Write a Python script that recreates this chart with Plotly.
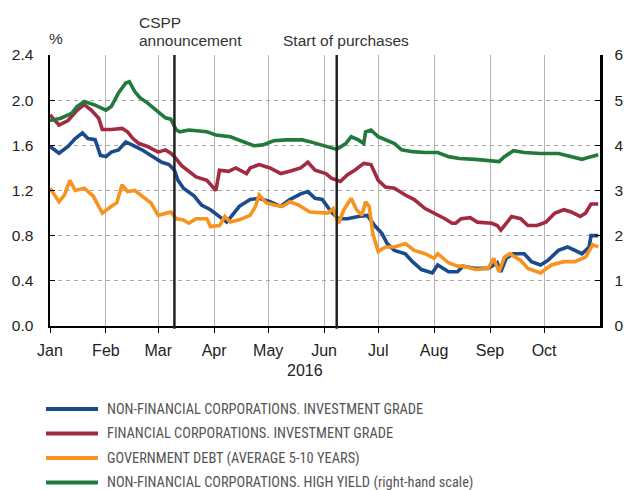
import plotly.graph_objects as go

# ---------------- data ----------------
series_names = [
    "NON-FINANCIAL CORPORATIONS. INVESTMENT GRADE",
    "FINANCIAL CORPORATIONS. INVESTMENT GRADE",
    "GOVERNMENT DEBT (AVERAGE 5-10 YEARS)",
    "NON-FINANCIAL CORPORATIONS. HIGH YIELD (right-hand scale)",
]

nfc_ig_dates = ["2016-01-01","2016-01-06","2016-01-11","2016-01-15","2016-01-19","2016-01-22","2016-01-26",
    "2016-01-29","2016-02-01","2016-02-04","2016-02-08","2016-02-12","2016-02-16","2016-02-21","2016-02-26",
    "2016-03-03","2016-03-07","2016-03-10","2016-03-12","2016-03-15","2016-03-21","2016-03-25","2016-03-30",
    "2016-04-04","2016-04-08","2016-04-12","2016-04-15","2016-04-21","2016-04-26","2016-05-02","2016-05-08",
    "2016-05-13","2016-05-19","2016-05-23","2016-05-27","2016-05-31","2016-06-05","2016-06-09","2016-06-14",
    "2016-06-20","2016-06-25","2016-06-29","2016-07-03","2016-07-06","2016-07-10","2016-07-16","2016-07-20",
    "2016-07-25","2016-07-31","2016-08-03","2016-08-09","2016-08-14","2016-08-17","2016-08-24","2016-08-31",
    "2016-09-05","2016-09-07","2016-09-10","2016-09-14","2016-09-20","2016-09-24","2016-09-29","2016-10-03",
    "2016-10-09","2016-10-14","2016-10-22","2016-10-26","2016-10-27","2016-10-31"]
nfc_ig_values = [1.59,1.53,1.59,1.66,1.71,1.66,1.65,
    1.51,1.50,1.54,1.56,1.63,1.60,1.56,1.51,
    1.45,1.43,1.38,1.29,1.22,1.15,1.07,1.03,
    0.97,0.92,1.00,1.06,1.12,1.13,1.10,1.06,
    1.12,1.17,1.19,1.13,1.12,1.01,0.95,0.95,
    0.97,0.98,0.89,0.82,0.73,0.67,0.64,0.57,
    0.50,0.47,0.54,0.48,0.48,0.53,0.51,0.51,
    0.56,0.48,0.60,0.64,0.64,0.57,0.54,0.58,
    0.67,0.70,0.64,0.70,0.80,0.80]

fc_ig_dates = ["2016-01-01","2016-01-06","2016-01-11","2016-01-16","2016-01-20","2016-01-24","2016-01-28",
    "2016-01-30","2016-02-04","2016-02-10","2016-02-13","2016-02-16","2016-02-19","2016-02-24","2016-03-01",
    "2016-03-05","2016-03-08","2016-03-10","2016-03-14","2016-03-17","2016-03-22","2016-03-28","2016-03-31",
    "2016-04-02","2016-04-04","2016-04-09","2016-04-13","2016-04-19","2016-04-21","2016-04-26","2016-05-02",
    "2016-05-08","2016-05-13","2016-05-19","2016-05-23","2016-05-27","2016-06-02","2016-06-05","2016-06-10",
    "2016-06-14","2016-06-18","2016-06-23","2016-06-27","2016-07-01","2016-07-05","2016-07-10","2016-07-16",
    "2016-07-21","2016-07-27","2016-08-01","2016-08-07","2016-08-11","2016-08-13","2016-08-16","2016-08-21",
    "2016-08-25","2016-09-02","2016-09-05","2016-09-07","2016-09-13","2016-09-18","2016-09-22","2016-09-27",
    "2016-10-02","2016-10-07","2016-10-12","2016-10-16","2016-10-21","2016-10-24","2016-10-27","2016-10-31"]
fc_ig_values = [1.87,1.78,1.82,1.91,1.96,1.91,1.84,
    1.74,1.74,1.75,1.72,1.66,1.62,1.59,1.54,
    1.56,1.53,1.50,1.42,1.38,1.32,1.29,1.23,
    1.20,1.38,1.37,1.40,1.35,1.40,1.43,1.40,
    1.35,1.37,1.40,1.45,1.38,1.35,1.31,1.28,
    1.34,1.38,1.44,1.43,1.29,1.23,1.22,1.16,
    1.12,1.04,1.00,0.95,0.91,0.91,0.95,0.96,
    0.92,0.91,0.89,0.85,0.97,0.95,0.89,0.89,
    0.92,1.00,1.03,1.01,0.97,1.00,1.08,1.08]

gov_dates = ["2016-01-01","2016-01-06","2016-01-09","2016-01-12","2016-01-15","2016-01-20","2016-01-25",
    "2016-01-30","2016-02-04","2016-02-07","2016-02-10","2016-02-13","2016-02-17","2016-02-21","2016-02-26",
    "2016-03-01","2016-03-05","2016-03-08","2016-03-11","2016-03-15","2016-03-18","2016-03-22","2016-03-28",
    "2016-03-30","2016-04-04","2016-04-07","2016-04-10","2016-04-15","2016-04-21","2016-04-24","2016-04-26",
    "2016-04-30","2016-05-05","2016-05-09","2016-05-13","2016-05-18","2016-05-24","2016-05-30","2016-06-03",
    "2016-06-06","2016-06-09","2016-06-12","2016-06-16","2016-06-19","2016-06-22","2016-06-24","2016-06-26",
    "2016-06-28","2016-07-01","2016-07-05","2016-07-10","2016-07-16","2016-07-21","2016-07-27","2016-08-01",
    "2016-08-03","2016-08-09","2016-08-14","2016-08-17","2016-08-24","2016-08-31","2016-09-03","2016-09-06",
    "2016-09-09","2016-09-12","2016-09-18","2016-09-22","2016-09-29","2016-10-05","2016-10-12","2016-10-18",
    "2016-10-24","2016-10-28","2016-10-31"]
gov_values = [1.22,1.10,1.16,1.29,1.20,1.22,1.15,
    1.00,1.06,1.09,1.25,1.19,1.20,1.15,1.09,
    0.98,1.00,1.01,0.95,0.94,0.91,0.95,0.95,
    0.88,0.89,0.97,0.92,0.94,0.98,1.06,1.16,
    1.09,1.07,1.06,1.10,1.07,1.01,1.00,1.00,
    1.04,0.91,1.03,1.13,1.03,0.98,1.10,1.06,
    0.82,0.66,0.70,0.70,0.73,0.67,0.64,0.60,
    0.64,0.56,0.53,0.53,0.50,0.51,0.60,0.48,
    0.61,0.64,0.58,0.51,0.47,0.54,0.57,0.57,
    0.61,0.72,0.70]

nfc_hy_dates = ["2016-01-01","2016-01-07","2016-01-13","2016-01-16","2016-01-20","2016-01-26","2016-02-01",
    "2016-02-04","2016-02-08","2016-02-12","2016-02-14","2016-02-17","2016-02-20","2016-02-24","2016-03-01",
    "2016-03-05","2016-03-08","2016-03-11","2016-03-13","2016-03-18","2016-03-28","2016-04-02","2016-04-10",
    "2016-04-15","2016-04-23","2016-04-28","2016-05-04","2016-05-11","2016-05-20","2016-05-26","2016-06-03",
    "2016-06-08","2016-06-13","2016-06-16","2016-06-20","2016-06-23","2016-06-24","2016-06-27","2016-07-01",
    "2016-07-05","2016-07-10","2016-07-14","2016-07-20","2016-07-27","2016-08-03","2016-08-09","2016-08-15",
    "2016-08-24","2016-08-31","2016-09-06","2016-09-09","2016-09-14","2016-09-20","2016-09-29","2016-10-09",
    "2016-10-16","2016-10-22","2016-10-27","2016-10-31"]
nfc_hy_values = [4.55,4.60,4.71,4.86,4.97,4.89,4.78,
    4.86,5.16,5.38,5.41,5.19,5.05,4.94,4.74,
    4.61,4.58,4.34,4.30,4.34,4.30,4.23,4.19,
    4.12,3.99,4.01,4.10,4.12,4.12,4.06,3.97,
    3.91,4.04,4.19,4.12,4.04,4.30,4.34,4.19,
    4.12,4.04,3.90,3.86,3.84,3.84,3.75,3.71,
    3.69,3.67,3.64,3.75,3.88,3.84,3.82,3.82,
    3.75,3.69,3.75,3.79]

event_dates = ["2016-03-10", "2016-06-08"]
month_starts = ["2016-01-01","2016-02-01","2016-03-01","2016-04-01","2016-05-01",
                "2016-06-01","2016-07-01","2016-08-01","2016-09-01","2016-10-01"]
month_labels = ["Jan","Feb","Mar","Apr","May","Jun","Jul","Aug","Sep","Oct"]
left_ticks = [0.0, 0.4, 0.8, 1.2, 1.6, 2.0, 2.4]
right_ticks = [0, 1, 2, 3, 4, 5, 6]

colors = ["#1b4b8c", "#a32a40", "#f7931e", "#217a3b"]

# ---------------- figure ----------------
FONT = "Liberation Sans, Arial, Helvetica, sans-serif"
NARROW = "Liberation Sans Narrow, Arial Narrow, Roboto Condensed, sans-serif"

fig = go.Figure()
xs = [nfc_ig_dates, fc_ig_dates, gov_dates, nfc_hy_dates]
ys = [nfc_ig_values, fc_ig_values, gov_values, nfc_hy_values]
for i in range(4):
    fig.add_trace(go.Scatter(
        x=xs[i], y=ys[i], mode="lines", name=series_names[i],
        line=dict(color=colors[i], width=3.6),
        yaxis="y2" if i == 3 else "y", showlegend=False, hoverinfo="skip"))

# event lines
for d in event_dates:
    fig.add_shape(type="line", xref="x", yref="paper", x0=d, x1=d, y0=-0.01, y1=1,
                  line=dict(color="#222222", width=2.5), layer="above")

# page pixel -> paper helpers (plot area sits at 50..600 x, 55..326 y on the page)
def px(xp):
    return (xp - 50) / 550.0

def py(yp):
    return (326 - yp) / 271.0

TXT = dict(size=15.5, color="#333333", family=FONT)
annotations = [
    dict(text="%", x=px(47), y=py(39), xanchor="left", yanchor="middle", font=TXT),
    dict(text="CSPP", x=px(137), y=py(22), xanchor="left", yanchor="middle", font=TXT),
    dict(text="announcement", x=px(137), y=py(40), xanchor="left", yanchor="middle", font=TXT),
    dict(text="Start of purchases", x=px(281), y=py(40), xanchor="left", yanchor="middle", font=TXT),
    dict(text="2016", x=px(305), y=py(370), xanchor="center", yanchor="middle",
         font=dict(size=16, color="#222222", family=FONT)),
]
for a in annotations:
    a.update(xref="paper", yref="paper", showarrow=False)

# custom legend
leg_rows = [409, 433.5, 458, 482.5]
for i in range(4):
    fig.add_shape(type="line", xref="paper", yref="paper",
                  x0=px(46), x1=px(98), y0=py(leg_rows[i]), y1=py(leg_rows[i]),
                  line=dict(color=colors[i], width=4))
    annotations.append(dict(text=series_names[i], xref="paper", yref="paper",
                            x=px(105), y=py(leg_rows[i]), xanchor="left", yanchor="middle",
                            showarrow=False, font=dict(size=14.4, color="#555555", family=NARROW)))

fig.update_layout(
    width=627, height=490,
    margin=dict(l=50, r=27, t=55, b=164, autoexpand=False),
    paper_bgcolor="white", plot_bgcolor="white",
    showlegend=False,
    annotations=annotations,
    xaxis=dict(
        type="date", range=["2016-01-01", "2016-11-01"],
        tickmode="array", tickvals=month_starts, ticktext=month_labels,
        showgrid=True, gridcolor="#b4b4b4", gridwidth=1,
        showline=True, linecolor="black", linewidth=2,
        ticks="outside", ticklen=5, tickcolor="black", tickwidth=1,
        ticklabelstandoff=4, automargin=False,
        tickfont=dict(size=16, color="#222222", family=FONT),
        zeroline=False, fixedrange=True,
    ),
    yaxis=dict(
        range=[0, 2.4], tickmode="array", tickvals=left_ticks,
        tickformat=".1f",
        showgrid=True, gridcolor="#a8a8a8", gridwidth=1, griddash="4px,4px",
        showline=True, linecolor="black", linewidth=2.5,
        ticks="inside", ticklen=5, tickcolor="black",
        ticklabelstandoff=11, automargin=False,
        tickfont=dict(size=15.5, color="#222222", family=FONT),
        zeroline=False,
    ),
    yaxis2=dict(
        range=[0, 6], tickmode="array", tickvals=right_ticks,
        overlaying="y", side="right", anchor="x",
        showgrid=False, showline=True, linecolor="black", linewidth=2.5,
        ticks="inside", ticklen=5, tickcolor="black",
        ticklabelstandoff=9, automargin=False, ticklabeloverflow="allow",
        tickfont=dict(size=15.5, color="#222222", family=FONT),
        zeroline=False,
    ),
)

# remove the browser's default 8px body margin so the 627x490 figure fills the window exactly
fig.write_html("out.html",
               config={"displayModeBar": False, "staticPlot": True},
               post_script="document.body.style.margin='0';document.body.style.overflow='hidden';")
